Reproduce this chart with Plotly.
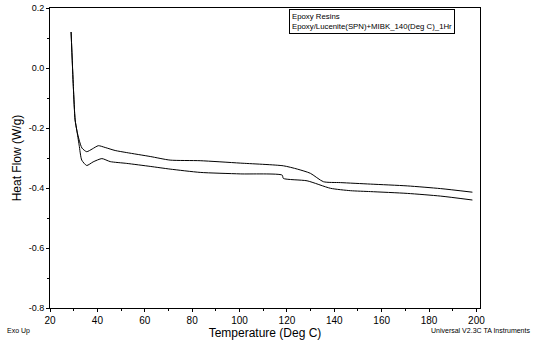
import plotly.graph_objects as go

# Upper curve (Temperature, Heat Flow)
t_upper = [28.9, 29.85, 30.6, 31.3, 32.3, 33.5, 35.5, 37.8, 40.4, 43.3, 47.5, 52.4, 62.3, 70.7,
           83.4, 100.3, 118.5, 124.4, 129.9, 135.4, 142.6, 155.3, 170.8, 184.9, 198.3]
hf_upper = [0.12, -0.062, -0.173, -0.207, -0.24, -0.267, -0.279, -0.27, -0.259, -0.265, -0.275,
            -0.282, -0.295, -0.307, -0.309, -0.317, -0.326, -0.337, -0.351, -0.379, -0.382,
            -0.387, -0.393, -0.402, -0.414]

# Lower curve
t_lower = [28.9, 29.85, 30.6, 31.3, 32.3, 33.4, 35.5, 38.2, 41.9, 45.4, 52.4, 62.3, 70.7, 83.4,
           100.3, 118.0, 118.5, 128.5, 138.4, 146.9, 155.3, 170.8, 184.9, 198.3]
hf_lower = [0.12, -0.062, -0.173, -0.207, -0.257, -0.307, -0.325, -0.313, -0.302, -0.312, -0.318,
            -0.328, -0.337, -0.348, -0.353, -0.357, -0.368, -0.376, -0.401, -0.409, -0.412,
            -0.418, -0.427, -0.44]

x_ticks = [20, 40, 60, 80, 100, 120, 140, 160, 180, 200]
y_ticks = [0.2, 0.0, -0.2, -0.4, -0.6, -0.8]
y_tick_labels = ["0.2", "0.0", "-0.2", "-0.4", "-0.6", "-0.8"]

FONT = "Liberation Sans, Arial, sans-serif"

fig = go.Figure()
for t, h in [(t_upper, hf_upper), (t_lower, hf_lower)]:
    fig.add_trace(go.Scatter(x=t, y=h, mode="lines", line=dict(color="black", width=1, shape="spline", smoothing=0.6),
                             showlegend=False, hoverinfo="skip"))

fig.update_layout(
    width=535, height=340,
    margin=dict(l=50, r=55, t=8, b=32, autoexpand=False),
    paper_bgcolor="white", plot_bgcolor="white",
    font=dict(family=FONT, color="black", size=10),
    xaxis=dict(range=[20, 201.5], tickvals=x_ticks, ticks="outside", ticklen=3, tickcolor="black",
               automargin=False,
               showgrid=False, zeroline=False, showline=True, linecolor="black", linewidth=1, mirror=True,
               tickfont=dict(size=10), minor=dict(dtick=10, ticks="outside", ticklen=2, tickcolor="black"),
               title=dict(text="Temperature (Deg C)", font=dict(size=12), standoff=0)),
    yaxis=dict(range=[-0.8, 0.2], tickvals=y_ticks, ticktext=y_tick_labels, ticks="outside", ticklen=3,
               automargin=False,
               tickcolor="black", showgrid=False, zeroline=False, showline=True, linecolor="black",
               linewidth=1, mirror=True, tickfont=dict(size=9),
               minor=dict(dtick=0.1, ticks="outside", ticklen=2, tickcolor="black"),
               title=dict(text="Heat Flow (W/g)", font=dict(size=12), standoff=4)),
)

fig.add_annotation(xref="paper", yref="paper", x=0.555, y=0.997, xanchor="left", yanchor="top",
                   text="Epoxy Resins<br>Epoxy/Lucenite(SPN)+MIBK_140(Deg C)_1Hr",
                   showarrow=False, align="left", font=dict(size=7.8, family=FONT),
                   bordercolor="black", borderwidth=1, borderpad=2, bgcolor="white")
fig.add_annotation(xref="paper", yref="paper", x=-0.105, y=-0.055, xanchor="left", yanchor="top",
                   text="Exo Up", showarrow=False, font=dict(size=7, family=FONT))
fig.add_annotation(xref="paper", yref="paper", x=1.12, y=-0.055, xanchor="right", yanchor="top",
                   text="Universal V2.3C TA Instruments", showarrow=False, font=dict(size=7, family=FONT))

fig.write_html("out.html")
